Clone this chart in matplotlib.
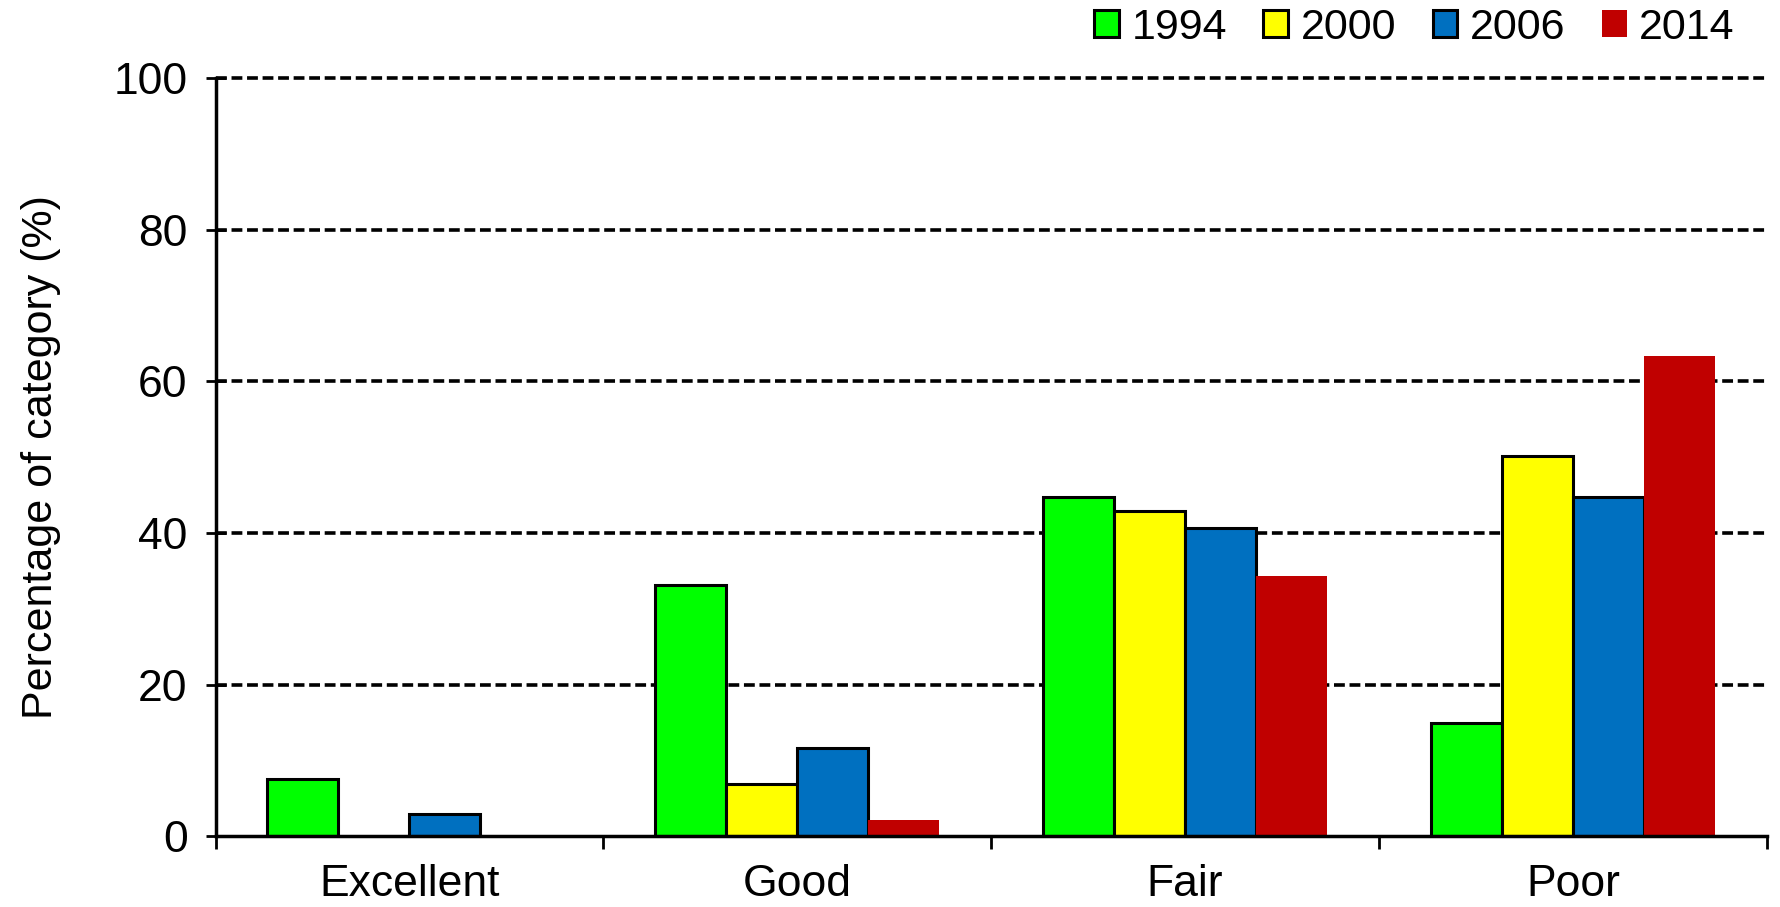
import matplotlib
matplotlib.use('Agg')
import matplotlib.pyplot as plt
import numpy as np

categories = ['Excellent', 'Good', 'Fair', 'Poor']
years = ['1994', '2000', '2006', '2014']
v1994 = [7.5, 33.1, 44.7, 15.0]
v2000 = [0.0, 6.9, 42.9, 50.1]
v2006 = [3.0, 11.7, 40.6, 44.8]
v2014 = [0.0, 2.2, 34.3, 63.3]
yticks = [0, 20, 40, 60, 80, 100]

colors = ['#00ff00', '#ffff00', '#0070c0', '#c00000']
edges = ['black', 'black', 'black', 'none']

plt.rcParams['font.family'] = ['Liberation Sans', 'DejaVu Sans']

fig = plt.figure(figsize=(17.81, 9.07), dpi=100)
ax = fig.add_axes([0.121, 0.078, 0.871, 0.836])

x = np.arange(len(categories))
w = 0.183
series = [v1994, v2000, v2006, v2014]
for i, vals in enumerate(series):
    vals = np.array(vals)
    mask = vals > 0
    ax.bar(x[mask] + (i - 1.5) * w, vals[mask], width=w, color=colors[i],
           edgecolor=edges[i], linewidth=2.2, label=years[i], zorder=3)

ax.set_xlim(-0.5, 3.5)
ax.set_ylim(0, 100)
ax.set_yticks(yticks)
ax.tick_params(axis='y', labelsize=32, direction='inout', length=14, width=2, pad=13)
ax.set_xticks(x)
ax.set_xticklabels(categories)
ax.tick_params(axis='x', which='major', labelsize=32, length=0, pad=20)
ax.set_xticks(np.arange(-0.5, 4, 1), minor=True)
ax.tick_params(axis='x', which='minor', direction='out', length=9, width=2)

# dashed gridlines (skip 0, keep the 100 line unclipped)
ax.hlines(yticks[1:], -0.5, 3.5, colors='black', linestyles=(0, (3, 1.3)),
          linewidth=2.6, zorder=1, clip_on=False)
for s in ['top', 'right']:
    ax.spines[s].set_visible(False)
for s in ['left', 'bottom']:
    ax.spines[s].set_linewidth(2.5)
    ax.spines[s].set_zorder(4)

ax.set_ylabel('Percentage of category (%)', fontsize=31, labelpad=38)

ax.legend(loc='center right', bbox_to_anchor=(0.979, 1.066), ncol=4, frameon=False,
          fontsize=31, handlelength=0.58, handleheight=0.58, handletextpad=0.28,
          columnspacing=0.85, borderaxespad=0, borderpad=0)

fig.savefig('out.png', dpi=100)
